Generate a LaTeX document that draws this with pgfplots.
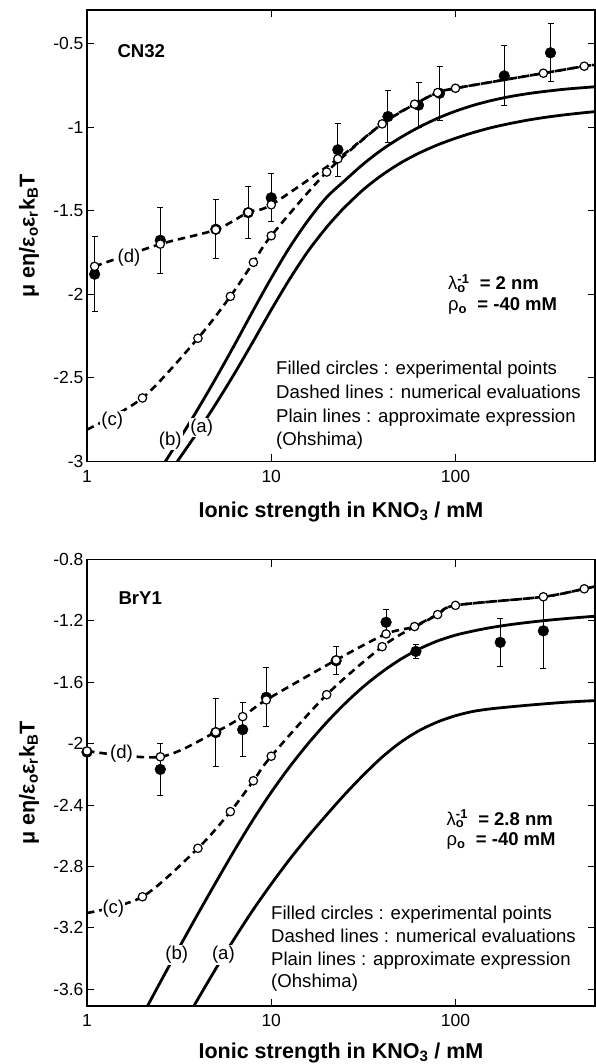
\documentclass[border=0pt]{standalone}
\usepackage{fontspec}
\setmainfont{Liberation Sans}
\usepackage{pgfplots}
\pgfplotsset{compat=1.18}

\newcommand{\ticksize}{\fontsize{17.5}{21}\selectfont}
\newcommand{\labsize}{\fontsize{21.5}{25}\selectfont\bfseries}
\newcommand{\notesize}{\fontsize{18.6}{22}\selectfont}
\newcommand{\annsize}{\fontsize{18.5}{20.5}\selectfont\bfseries}

\pgfplotsset{
  theory/.style={black, line width=2.8pt, smooth, no markers},
  numeric/.style={black, line width=2.6pt, dash pattern=on 7.5pt off 5pt, smooth, no markers},
  numpts/.style={only marks, mark=*, mark size=4.2pt,
    mark options={fill=white, draw=black, line width=1.2pt, solid}},
  expts/.style={only marks, mark=*, mark size=5.4pt, black,
    error bars/y dir=both, error bars/y explicit,
    error bars/error mark=-,
    error bars/error bar style={line width=1pt, solid},
    error bars/error mark options={rotate=90, line width=1pt, mark size=3pt, black, solid}},
}
\tikzset{curvetag/.style={fill=white, inner sep=1pt, font=\notesize}}

\begin{document}
\begin{tikzpicture}
\useasboundingbox (0,0) rectangle (596pt,-1064pt);

% ---------------- CN32 ----------------
\begin{axis}[at={(87pt,-10pt)}, anchor=north west,
  scale only axis, width=508pt, height=451.5pt,
  xmode=log, xmin=1, xmax=572,
  xtick={1,10,100}, xticklabels={1,10,100},
  xminorticks=false, yminorticks=false,
  tick align=inside, tick pos=both,
  major tick length=7pt,
  tick style={line width=1pt, black},
  axis line style={line width=1.2pt},
  tick label style={font=\ticksize},
  xticklabel style={yshift=-5pt},
  ymin=-3, ymax=-0.3,
  ytick={-3,-2.5,-2,-1.5,-1,-0.5}, yticklabels={-3,-2.5,-2,-1.5,-1,-0.5},
  xlabel={Ionic strength in KNO\textsubscript{3} / mM},
  ylabel={μ eη/ε\textsubscript{o}ε\textsubscript{r}k\textsubscript{B}T},
  xlabel style={font=\labsize, anchor=base, at={(axis description cs:0.5,-0.1235)}},
  ylabel style={font=\labsize, anchor=center, at={(axis description cs:-0.114,0.5)}}]

% approximate expression (Ohshima), curve (b)
\addplot[theory] table {
x y
2.399 -3.077
2.661 -3.0
3.162 -2.870
3.981 -2.690
5.012 -2.501
6.310 -2.304
7.943 -2.101
10 -1.903
12.59 -1.719
15.85 -1.558
19.95 -1.421
25.12 -1.319
31.62 -1.221
39.81 -1.136
50.12 -1.064
63.10 -1.002
79.43 -0.949
100 -0.905
125.9 -0.869
158.5 -0.840
199.5 -0.817
251.2 -0.799
316.2 -0.785
398.1 -0.773
501.2 -0.764
572 -0.759
};
% approximate expression (Ohshima), curve (a)
\addplot[theory] table {
x y
2.818 -3.062
3.09 -3.0
3.981 -2.824
5.012 -2.654
6.310 -2.475
7.943 -2.286
10 -2.093
12.59 -1.909
15.85 -1.742
19.95 -1.600
23.71 -1.507
25.12 -1.478
31.62 -1.374
39.81 -1.288
50.12 -1.216
63.10 -1.157
79.43 -1.108
100 -1.067
125.9 -1.032
158.5 -1.002
199.5 -0.978
251.2 -0.957
316.2 -0.940
398.1 -0.926
501.2 -0.914
572 -0.908
};

% numerical evaluations (c) and (d)
\addplot[numeric] table {
x y
1 -2.809
2 -2.62
4 -2.263
6 -2.0125
8 -1.809
10 -1.65
20 -1.269
40 -0.981
60 -0.863
80 -0.794
100 -0.768
300 -0.678
500 -0.636
572 -0.628
};
\addplot[numeric] table {
x y
1.1 -1.833
2.5 -1.70
5 -1.614
7.5 -1.51
10 -1.465
23 -1.19
40 -0.981
60 -0.863
80 -0.794
100 -0.768
300 -0.678
500 -0.636
572 -0.628
};

% experimental points
\addplot[expts] table[x=x, y=y, y error=e] {
x y e
1.1 -1.88 0.223
2.5 -1.677 0.197
5 -1.611 0.176
7.5 -1.512 0.156
10 -1.423 0.143
23 -1.136 0.158
43 -0.937 0.154
63 -0.869 0.134
82 -0.798 0.16
184 -0.694 0.179
328 -0.556 0.174
};

% computed points
\addplot[numpts] table {
x y
2 -2.62
4 -2.263
6 -2.0125
8 -1.809
10 -1.65
20 -1.269
40 -0.981
60 -0.863
80 -0.794
100 -0.768
300 -0.678
500 -0.636
};
\addplot[numpts] table {
x y
1.1 -1.833
2.5 -1.70
5 -1.614
7.5 -1.51
10 -1.465
23 -1.19
};

\node[curvetag] at (axis cs:1.69,-1.784) {(d)};
\node[curvetag] at (axis cs:1.37,-2.755) {(c)};
\node[curvetag] at (axis cs:2.83,-2.874) {(b)};
\node[curvetag] at (axis cs:4.19,-2.795) {(a)};
\end{axis}

\node[anchor=west, inner sep=0, font=\fontsize{18.6}{22}\selectfont\bfseries] at (117.3pt,-50.7pt) {CN32};
\node[anchor=base west, inner sep=0, font=\annsize] at (448pt,-290pt)
  {\begin{tabular}[t]{@{}l@{}}
   {\mdseries λ}\rlap{\textsubscript{o}}\textsuperscript{-1}\ \ = 2 nm\\
   {\mdseries ρ}\textsubscript{o}\ \ = -40 mM
   \end{tabular}};
\node[anchor=base west, inner sep=0, font=\notesize] at (276pt,-374pt) {Filled circles : experimental points};
\node[anchor=base west, inner sep=0, font=\notesize] at (276pt,-398pt) {Dashed lines : numerical evaluations};
\node[anchor=base west, inner sep=0, font=\notesize] at (276pt,-422pt) {Plain lines : approximate expression};
\node[anchor=base west, inner sep=0, font=\notesize] at (276pt,-445.5pt) {(Ohshima)};

% ---------------- BrY1 ----------------
\begin{axis}[at={(87pt,-559.5pt)}, anchor=north west,
  scale only axis, width=508pt, height=446.5pt,
  xmode=log, xmin=1, xmax=572,
  xtick={1,10,100}, xticklabels={1,10,100},
  xminorticks=false, yminorticks=false,
  tick align=inside, tick pos=both,
  major tick length=7pt,
  tick style={line width=1pt, black},
  axis line style={line width=1.2pt},
  tick label style={font=\ticksize},
  xticklabel style={yshift=-5pt},
  ymin=-3.71, ymax=-0.8,
  ytick={-3.6,-3.2,-2.8,-2.4,-2,-1.6,-1.2,-0.8},
  yticklabels={-3.6,-3.2,-2.8,-2.4,-2,-1.6,-1.2,-0.8},
  xlabel={Ionic strength in KNO\textsubscript{3} / mM},
  ylabel={μ eη/ε\textsubscript{o}ε\textsubscript{r}k\textsubscript{B}T},
  xlabel style={font=\labsize, anchor=base, at={(axis description cs:0.5,-0.1178)}},
  ylabel style={font=\labsize, anchor=center, at={(axis description cs:-0.114,0.5)}}]

% approximate expression (Ohshima), curve (b)
\addplot[theory] table {
x y
1.905 -3.819
2.512 -3.550
3.162 -3.330
3.981 -3.114
5.012 -2.903
6.310 -2.696
7.943 -2.499
10 -2.317
12.59 -2.151
15.85 -2.000
19.95 -1.863
25.12 -1.739
31.62 -1.629
39.81 -1.534
50.12 -1.452
63.10 -1.385
79.43 -1.332
100 -1.293
125.9 -1.265
158.5 -1.242
199.5 -1.224
251.2 -1.209
316.2 -1.196
398.1 -1.185
501.2 -1.175
572 -1.170
};
% approximate expression (Ohshima), curve (a)
\addplot[theory] table {
x y
3.467 -3.795
3.981 -3.669
5.012 -3.465
6.310 -3.271
7.943 -3.086
10 -2.915
12.59 -2.754
15.85 -2.605
19.95 -2.465
25.12 -2.330
31.62 -2.205
39.81 -2.090
50.12 -1.993
63.10 -1.917
79.43 -1.860
100 -1.818
125.9 -1.789
158.5 -1.772
199.5 -1.760
251.2 -1.749
316.2 -1.739
398.1 -1.730
501.2 -1.723
572 -1.720
};

\addplot[numeric] table {
x y
1 -3.104
2 -2.998
4 -2.682
6 -2.443
8 -2.242
10 -2.082
20 -1.681
40 -1.368
60 -1.237
80 -1.159
100 -1.099
300 -1.043
500 -0.991
572 -0.975
};
\addplot[numeric] table {
x y
1 -2.048
2.5 -2.086
5 -1.924
7 -1.824
9.4 -1.715
22.5 -1.455
42 -1.285
60 -1.237
80 -1.159
100 -1.099
300 -1.043
500 -0.991
572 -0.975
};

\addplot[expts] table[x=x, y=y, y error=e] {
x y e
1 -2.055 0
2.5 -2.168 0.168
5 -1.928 0.219
7 -1.909 0.176
9.4 -1.698 0.193
22.5 -1.46 0.09
42 -1.209 0.085
61 -1.399 0.047
175 -1.34 0.155
300 -1.265 0.245
};

\addplot[numpts] table {
x y
2 -2.998
4 -2.682
6 -2.443
8 -2.242
10 -2.082
20 -1.681
40 -1.368
60 -1.237
80 -1.159
100 -1.099
300 -1.043
500 -0.991
};
\addplot[numpts] table {
x y
1 -2.048
2.5 -2.086
5 -1.924
7 -1.824
9.4 -1.715
22.5 -1.455
42 -1.285
};

\node[curvetag] at (axis cs:1.54,-2.063) {(d)};
\node[curvetag] at (axis cs:1.39,-3.074) {(c)};
\node[curvetag] at (axis cs:3.07,-3.378) {(b)};
\node[curvetag] at (axis cs:5.5,-3.378) {(a)};
\end{axis}

\node[anchor=west, inner sep=0, font=\fontsize{18.6}{22}\selectfont\bfseries] at (118.3pt,-598.5pt) {BrY1};
\node[anchor=base west, inner sep=0, font=\annsize] at (446.5pt,-825pt)
  {\begin{tabular}[t]{@{}l@{}}
   {\mdseries λ}\rlap{\textsubscript{o}}\textsuperscript{-1}\ \ = 2.8 nm\\
   {\mdseries ρ}\textsubscript{o}\ \ = -40 mM
   \end{tabular}};
\node[anchor=base west, inner sep=0, font=\notesize] at (271pt,-919pt) {Filled circles : experimental points};
\node[anchor=base west, inner sep=0, font=\notesize] at (271pt,-942.5pt) {Dashed lines : numerical evaluations};
\node[anchor=base west, inner sep=0, font=\notesize] at (271pt,-965pt) {Plain lines : approximate expression};
\node[anchor=base west, inner sep=0, font=\notesize] at (271pt,-987pt) {(Ohshima)};
\end{tikzpicture}
\end{document}
